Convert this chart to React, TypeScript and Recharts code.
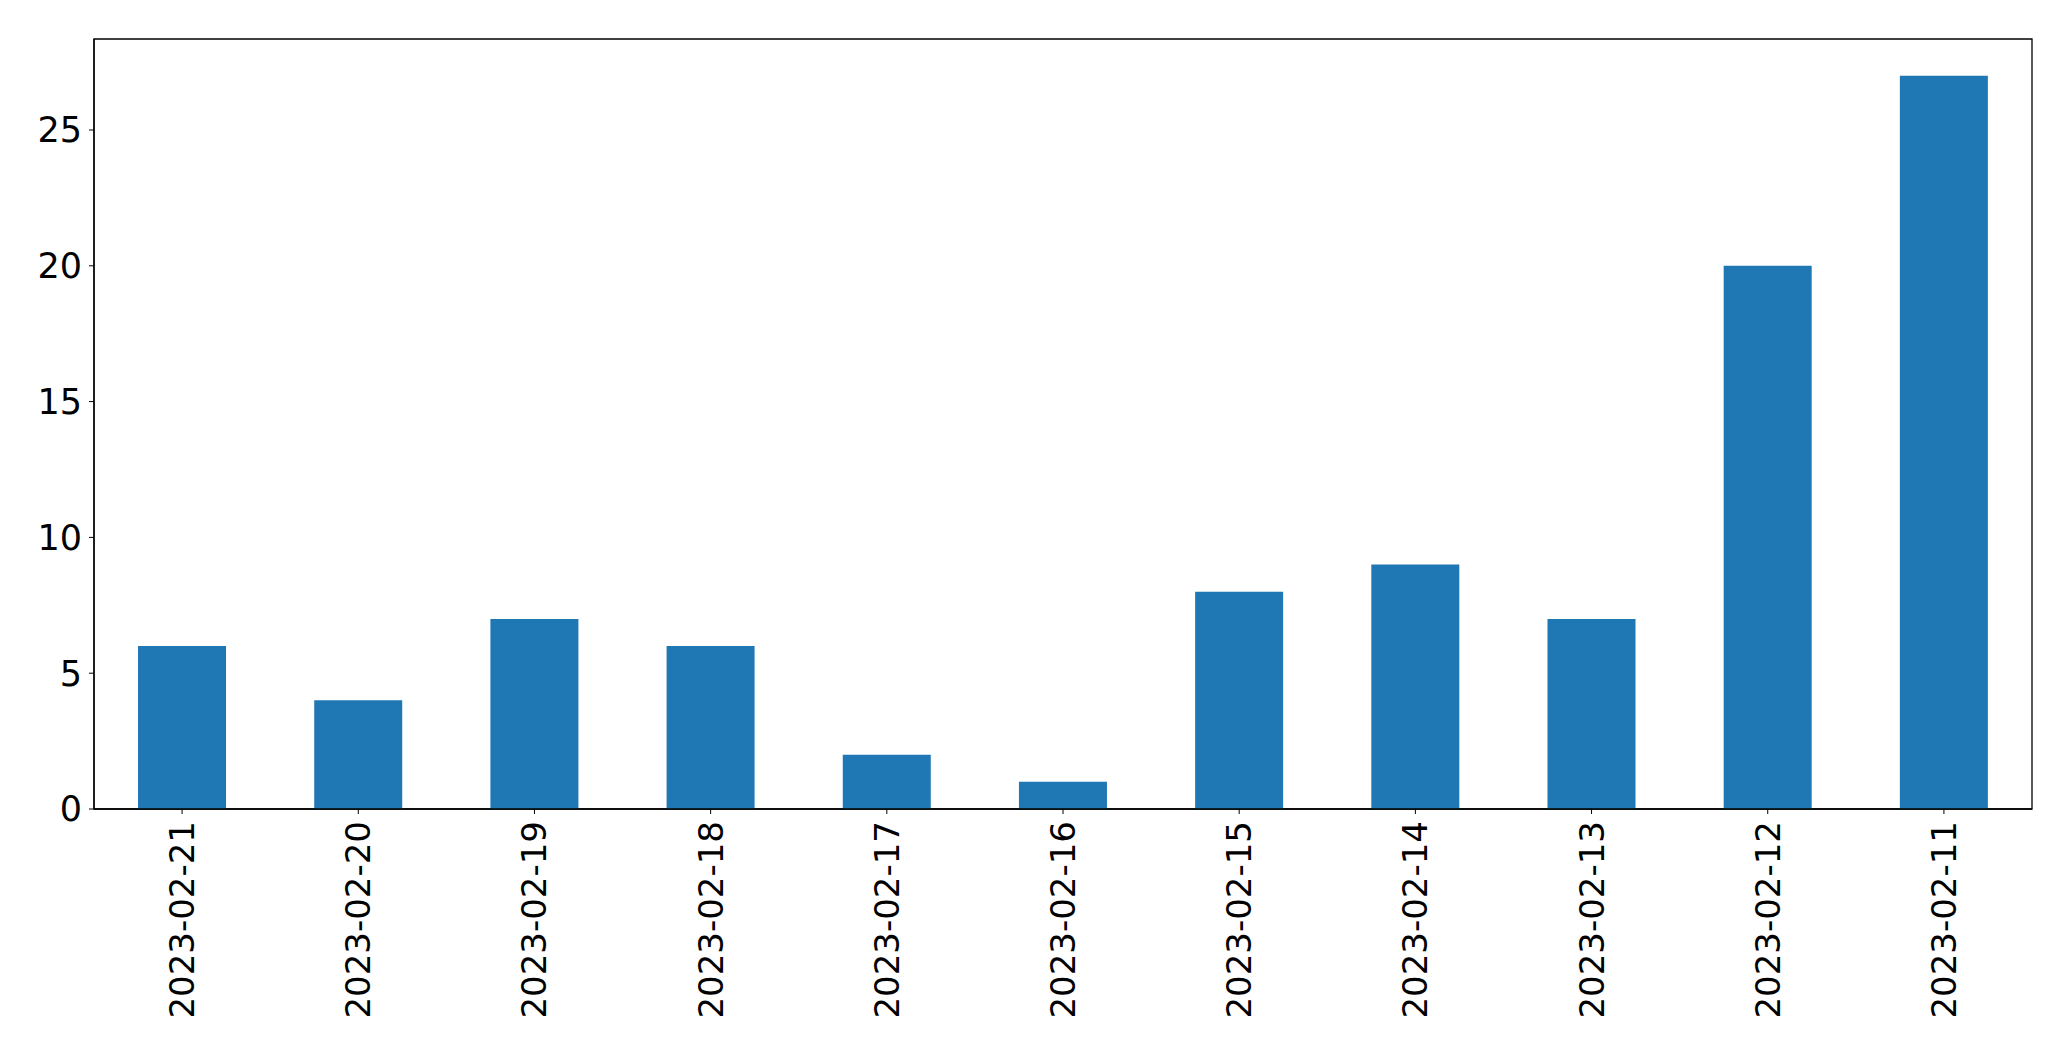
import { Bar, BarChart, ReferenceArea, XAxis, YAxis } from "recharts";

const dates = [
  "2023-02-21",
  "2023-02-20",
  "2023-02-19",
  "2023-02-18",
  "2023-02-17",
  "2023-02-16",
  "2023-02-15",
  "2023-02-14",
  "2023-02-13",
  "2023-02-12",
  "2023-02-11",
];
const counts = [6, 4, 7, 6, 2, 1, 8, 9, 7, 20, 27];
const yTicks = [0, 5, 10, 15, 20, 25];
const yMax = 28.35;

const data = dates.map((d, i) => ({ date: d, count: counts[i] }));

const FONT = "DejaVu Sans";

function DateTick(props: any) {
  const { x, y, payload } = props;
  return (
    <text
      x={x}
      y={y}
      transform={`rotate(-90, ${x}, ${y})`}
      textAnchor="end"
      dominantBaseline="central"
      fontFamily={FONT}
      fontSize={34}
      fill="#000"
    >
      {payload.value}
    </text>
  );
}

export default function App() {
  return (
    <div style={{ position: "absolute", left: 0, top: 0, width: 2071, height: 1061, background: "#fff" }}>
      <BarChart
        width={2071}
        height={1061}
        data={data}
        margin={{ top: 39, right: 39, left: 0, bottom: 0 }}
        barCategoryGap="25%"
      >
        <XAxis
          dataKey="date"
          height={252}
          interval={0}
          tickSize={5}
          tickMargin={7}
          tick={<DateTick />}
          tickLine={{ stroke: "#000" }}
          axisLine={{ stroke: "#000", strokeWidth: 1.3 }}
        />
        <YAxis
          width={94}
          domain={[0, yMax]}
          ticks={yTicks}
          tickSize={5}
          tickMargin={7}
          interval={0}
          tick={{ fontFamily: FONT, fontSize: 35, fill: "#000" }}
          tickLine={{ stroke: "#000" }}
          axisLine={{ stroke: "#000", strokeWidth: 1.3 }}
        />
        <Bar dataKey="count" fill="#1f77b4" isAnimationActive={false} />
        <ReferenceArea y1={0} y2={yMax} fill="none" stroke="#000" strokeWidth={1.3} />
      </BarChart>
    </div>
  );
}
